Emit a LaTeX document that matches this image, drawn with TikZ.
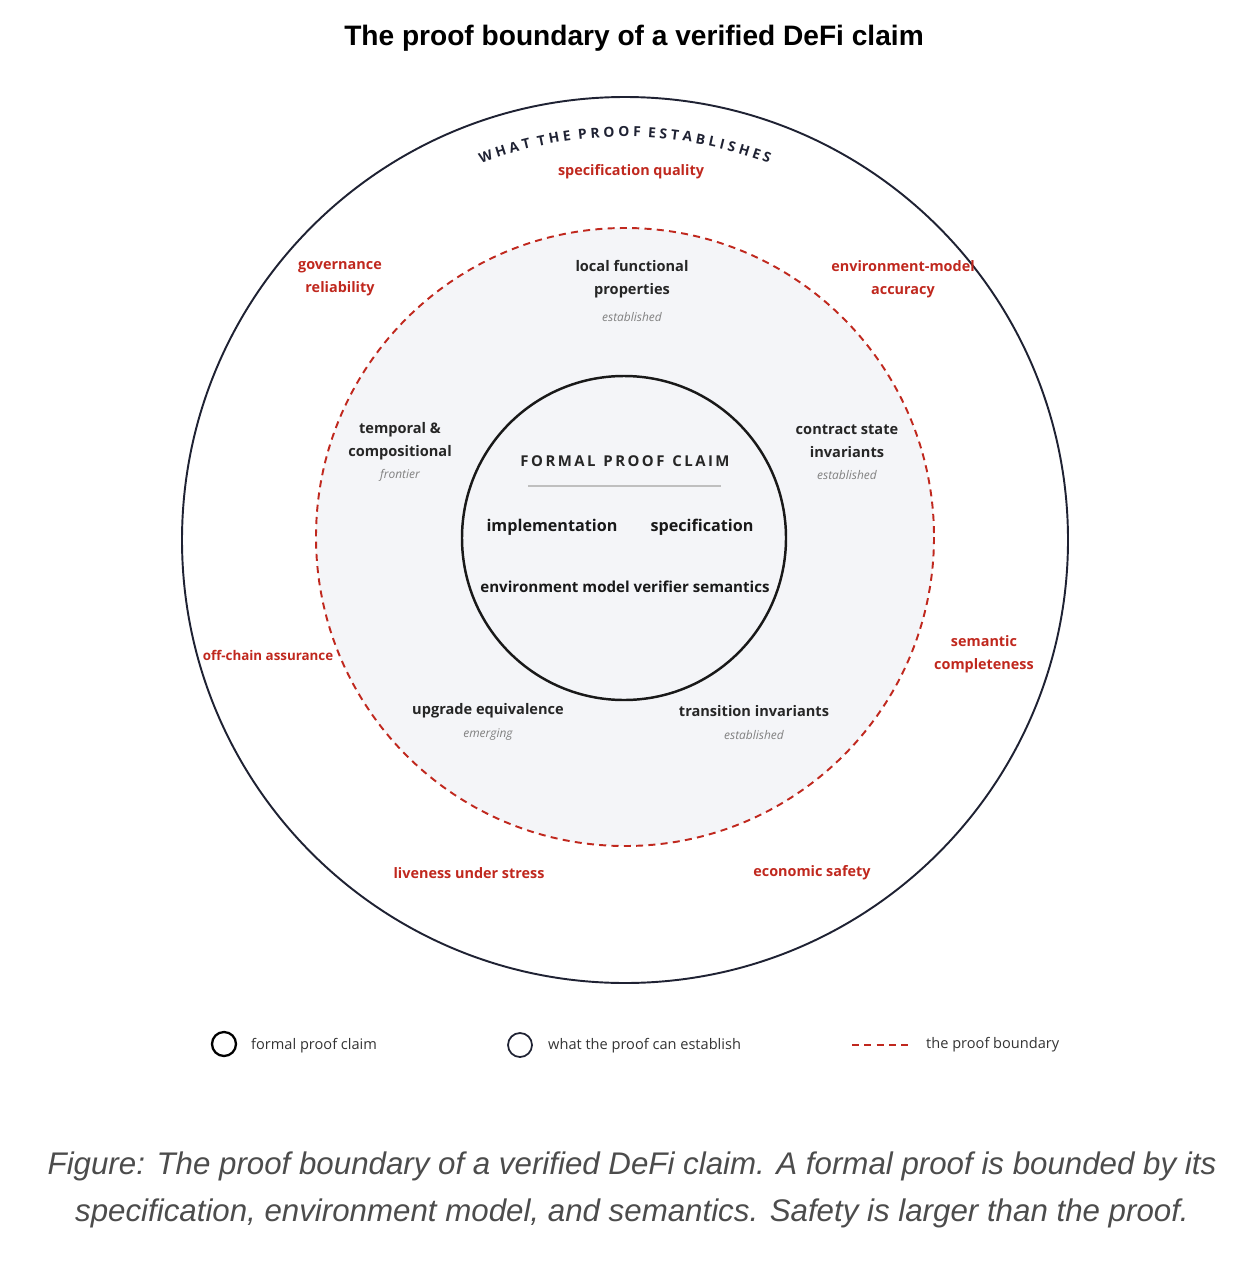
\documentclass[tikz,border=0pt]{standalone}
\usepackage{fontspec}
\setmainfont{Open Sans}
\newfontfamily\arialf{Liberation Sans}
\usetikzlibrary{decorations.text}
\definecolor{boundred}{HTML}{C0281E}
\definecolor{ringnavy}{HTML}{1F2233}
\definecolor{zonefill}{HTML}{F4F5F8}
\tikzset{
  lbl/.style={align=center, font=\fontsize{8.3}{13}\selectfont\bfseries, text=black!85},
  risk/.style={align=center, font=\fontsize{8.2}{13}\selectfont\bfseries, text=boundred},
  status/.style={font=\fontsize{6.8}{8}\selectfont\itshape, text=black!50},
  core/.style={font=\fontsize{9.2}{12}\selectfont\bfseries, text=black!90},
  legend/.style={anchor=west, font=\fontsize{8.3}{10}\selectfont, text=black!80}
}
\begin{document}
\begin{tikzpicture}[x=0.02cm, y=-0.02cm]
    \useasboundingbox (0,0) rectangle (1238,1271);
    % rings
    \draw [ringnavy, line width=1.1pt] (625,540) circle (443);
    \fill [zonefill] (625,537) circle (309);
    \draw [boundred, line width=1.1pt, dash pattern=on 4pt off 3pt] (625,537) circle (309);
    \draw [black!90, line width=1.4pt] (624,538) circle (162);
    \draw [black!25, line width=0.6pt] (528,486) -- (721,486);
    % arc heading
    \path [decorate, decoration={text along path, text align=center,
        text={|\fontsize{7.9}{10}\selectfont\bfseries\color{ringnavy}|W H A T\ \ T H E\ \ P R O O F\ \ E S T A B L I S H E S}}]
        (625,540) ++(200:403) arc [start angle=200, end angle=340, radius=403];
    % title
    \node (title) at (634,38) {\arialf\fontsize{16}{20}\selectfont\bfseries The proof boundary of a verified DeFi claim};
    % core
    \node [font=\fontsize{8.5}{10}\selectfont\bfseries, text=black!85] (claim) at (625,461) {F\,O\,R\,M\,A\,L\ \ P\,R\,O\,O\,F\ \ C\,L\,A\,I\,M};
    \node [core] (impl) at (552,527) {implementation};
    \node [core] (spec) at (702,527) {specification};
    \node [core, font=\fontsize{8.6}{12}\selectfont\bfseries] (env) at (625,587) {environment model verifier semantics};
    % established ring
    \node [lbl] (local) at (632,279) {local functional\\properties};
    \node [status] at (632,317) {established};
    \node [lbl] (contract) at (847,441) {contract state\\invariants};
    \node [status] at (847,475) {established};
    \node [lbl] (temporal) at (400,441) {temporal \&\\compositional};
    \node [status] at (400,475) {frontier};
    \node [lbl] (upgrade) at (488,711) {upgrade equivalence};
    \node [status] at (488,735) {emerging};
    \node [lbl] (transition) at (754,711) {transition invariants};
    \node [status] at (754,735) {established};
    % outside the boundary
    \node [risk] (specq) at (631,172) {specification quality};
    \node [risk] (gov) at (340,279) {governance\\reliability};
    \node [risk] (envacc) at (903,279) {environment-model\\accuracy};
    \node [risk, font=\fontsize{7.6}{13}\selectfont\bfseries] (offchain) at (268,655) {off-chain assurance};
    \node [risk] (semantic) at (984,654) {semantic\\completeness};
    \node [risk] (live) at (469,873) {liveness under stress};
    \node [risk] (econ) at (812,873) {economic safety};
    % legend
    \draw [black, line width=1.3pt] (224,1044) circle (12);
    \node [legend] (lg1) at (245,1046) {formal proof claim};
    \draw [ringnavy, line width=1pt] (520,1045) circle (12);
    \node [legend] (lg2) at (542,1046) {what the proof can establish};
    \draw [boundred, line width=1.2pt, dash pattern=on 4pt off 3pt] (852,1045) -- (913,1045);
    \node [legend] (lg3) at (920,1045) {the proof boundary};
    % caption
    \node [align=center, text=black!70, font=\arialf\fontsize{17.8}{27}\selectfont\itshape] (caption) at (632,1190)
        {Figure: The proof boundary of a verified DeFi claim. A formal proof is bounded by its\\specification, environment model, and semantics. Safety is larger than the proof.};
\end{tikzpicture}
\end{document}
